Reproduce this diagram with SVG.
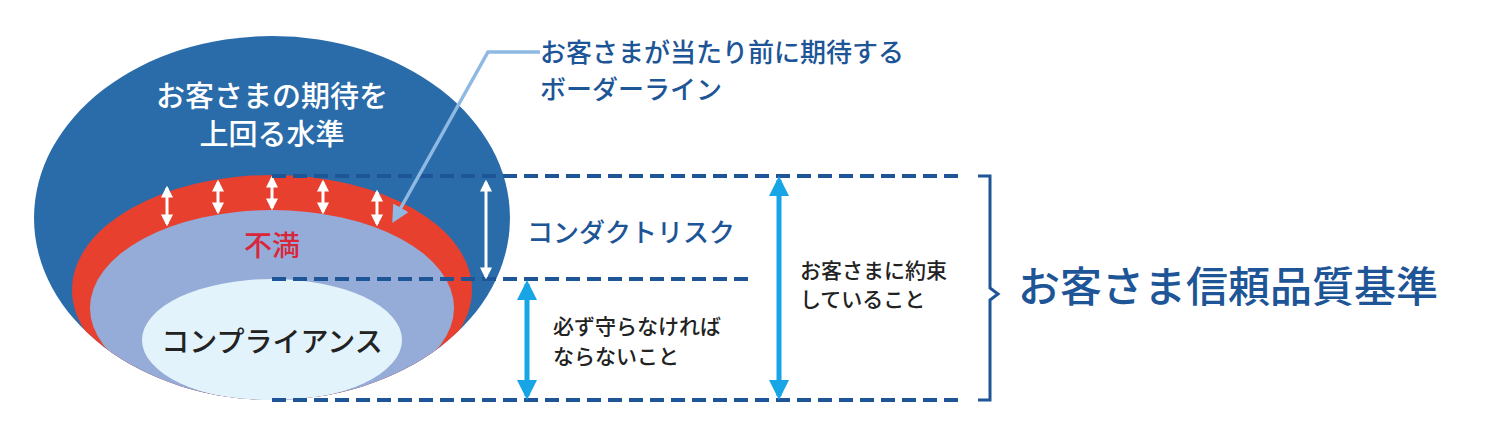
<svg xmlns="http://www.w3.org/2000/svg" width="1490" height="435" viewBox="0 0 1490 435">
<style>
text{font-family:"Noto Sans CJK JP","Noto Sans",sans-serif;font-weight:500}
.dash{stroke:#1d5597;stroke-width:4;stroke-dasharray:14 7;fill:none}
.wa{stroke:#fff;stroke-width:3;fill:none;marker-start:url(#wh);marker-end:url(#wh)}
.ca{stroke:#17a5e6;stroke-width:5;fill:none;marker-start:url(#ch);marker-end:url(#ch)}
.lbl{fill:#1d5597;font-size:26px}
.blk{fill:#222;font-size:21px}
</style>
<defs>
<marker id="wh" viewBox="0 0 10 10" refX="8" refY="5" markerWidth="4" markerHeight="4" orient="auto-start-reverse"><path d="M0,0L10,5L0,10z" fill="#fff"/></marker>
<marker id="ch" viewBox="0 0 10 10" refX="8" refY="5" markerWidth="4" markerHeight="4" orient="auto-start-reverse"><path d="M0,0L10,5L0,10z" fill="#17a5e6"/></marker>
<marker id="lh" viewBox="0 0 10 10" refX="8" refY="5" markerWidth="5" markerHeight="5" orient="auto"><path d="M0,0L10,5L0,10z" fill="#8fb9e2"/></marker>
<clipPath id="oc"><ellipse cx="272" cy="218" rx="238" ry="182"/></clipPath>
</defs>
<g id="outer"><ellipse cx="272" cy="218" rx="238" ry="182" fill="#2a6ca9"/>
<text x="272" y="107" text-anchor="middle" fill="#fff" font-size="29">お客さまの期待を</text>
<text x="272" y="145" text-anchor="middle" fill="#fff" font-size="29">上回る水準</text></g>
<g id="layers" clip-path="url(#oc)">
<ellipse cx="272" cy="290" rx="200" ry="115" fill="#e8402f"/>
<ellipse cx="272" cy="308" rx="182" ry="98" fill="#95acd8"/>
<ellipse cx="272" cy="340" rx="130" ry="61" fill="#e2f3fc"/>
</g>
<text x="272" y="256" text-anchor="middle" fill="#d8263a" font-size="28">不満</text>
<text x="272" y="352" text-anchor="middle" fill="#222" font-size="28">コンプライアンス</text>
<g id="connectors">
<line class="wa" x1="167" y1="188" x2="167" y2="224"/>
<line class="wa" x1="218" y1="182" x2="218" y2="212"/>
<line class="wa" x1="272" y1="178" x2="272" y2="208"/>
<line class="wa" x1="323" y1="182" x2="323" y2="212"/>
<line class="wa" x1="377" y1="192" x2="377" y2="224"/>
<line class="dash" x1="272" y1="176" x2="962" y2="176"/>
<line class="dash" x1="272" y1="279" x2="752" y2="279"/>
<line class="dash" x1="272" y1="400" x2="962" y2="400"/>
<line class="wa" x1="486" y1="182" x2="486" y2="277"/>
<line class="ca" x1="527" y1="284" x2="527" y2="396"/>
<line class="ca" x1="779" y1="180" x2="779" y2="396"/>
<polyline points="540,52 488,52 394,220" fill="none" stroke="#8fb9e2" stroke-width="3.5" marker-end="url(#lh)"/>
<polyline points="978,176 990,176 990,288 998,294 990,300 990,400 978,400" fill="none" stroke="#1d5597" stroke-width="3"/>
</g>
<g id="labels">
<text class="lbl" x="540" y="62">お客さまが当たり前に期待する</text>
<text class="lbl" x="540" y="99">ボーダーライン</text>
<text class="lbl" x="527" y="242">コンダクトリスク</text>
<text class="blk" x="800" y="278">お客さまに約束</text>
<text class="blk" x="800" y="307">していること</text>
<text class="blk" x="553" y="334">必ず守らなければ</text>
<text class="blk" x="553" y="364">ならないこと</text>
<text x="1018" y="302" fill="#1d5597" font-size="42">お客さま信頼品質基準</text>
</g>
</svg>
